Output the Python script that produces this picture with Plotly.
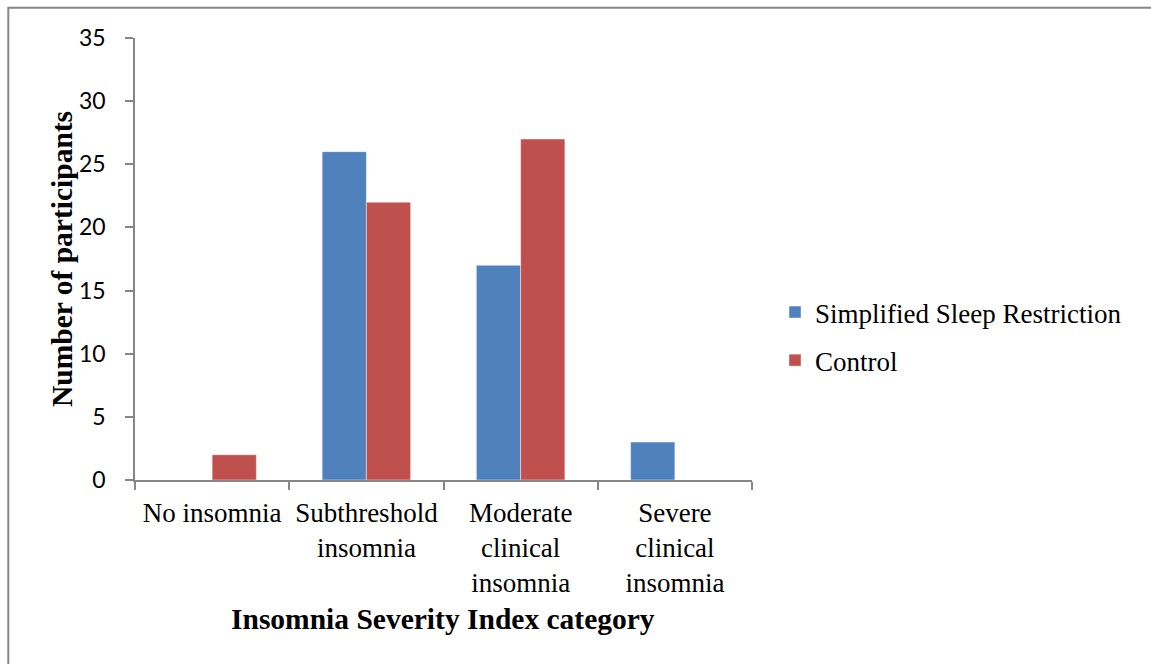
import plotly.graph_objects as go

categories = ["No insomnia", "Subthreshold<br>insomnia", "Moderate<br>clinical<br>insomnia",
              "Severe<br>clinical<br>insomnia"]
ssr_values = [0, 26, 17, 3]
control_values = [2, 22, 27, 0]
y_ticks = [0, 5, 10, 15, 20, 25, 30, 35]

AXIS_GREY = "#868686"
SERIF = "Liberation Serif, Times New Roman, serif"

W, H = 1151, 664
L, R, T, B = 135, 399, 38, 184
pw, ph = W - L - R, H - T - B


def px_x(x):
    return (x - L) / pw


def px_y(y):
    return (H - B - y) / ph


fig = go.Figure()
fig.add_trace(go.Bar(
    x=categories, y=ssr_values, name="Simplified Sleep Restriction",
    marker=dict(color="#4F81BD", line=dict(color="rgba(255,255,255,0.45)", width=1)),
    legendgroup="a",
))
fig.add_trace(go.Bar(
    x=categories, y=control_values, name="Control",
    marker=dict(color="#C0504D", line=dict(color="rgba(255,255,255,0.45)", width=1)),
    legendgroup="b",
))

fig.update_layout(
    width=W, height=H,
    margin=dict(l=L, r=R, t=T, b=B, autoexpand=False),
    paper_bgcolor="white", plot_bgcolor="white",
    barmode="group", bargap=0.426, bargroupgap=0,
    font=dict(family=SERIF, color="black"),
    legend=dict(
        x=px_x(775), y=px_y(336.5), xanchor="left", yanchor="middle",
        font=dict(family=SERIF, size=27, color="black"),
        tracegroupgap=10, bgcolor="rgba(0,0,0,0)",
    ),
    showlegend=True,
)

fig.update_xaxes(
    type="category",
    showline=True, linecolor=AXIS_GREY, linewidth=1.5,
    ticks="outside", tickson="boundaries", ticklen=8, tickcolor=AXIS_GREY, tickwidth=1.5,
    tickfont=dict(family=SERIF, size=27, color="black"),
    ticklabelstandoff=8,
    showgrid=False, zeroline=False,
)
fig.update_yaxes(
    range=[0, 35], tickvals=y_ticks,
    showline=True, linecolor=AXIS_GREY, linewidth=1.5,
    ticks="outside", ticklen=8, tickcolor=AXIS_GREY, tickwidth=1.5,
    tickfont=dict(family="Lato, Liberation Sans, sans-serif", size=23, color="black"),
    ticklabelstandoff=15,
    showgrid=False, zeroline=False,
)

# axis titles
fig.add_annotation(
    text="<b>Number of participants</b>", textangle=-90,
    xref="paper", yref="paper", x=px_x(62), y=0.5,
    xanchor="center", yanchor="middle", showarrow=False,
    font=dict(family=SERIF, size=29.5, color="black"),
)
fig.add_annotation(
    text="<b>Insomnia Severity Index category</b>",
    xref="paper", yref="paper", x=px_x(442.5), y=px_y(619),
    xanchor="center", yanchor="middle", showarrow=False,
    font=dict(family=SERIF, size=29.5, color="black"),
)

# chart-area frame
fig.add_shape(
    type="rect", xref="paper", yref="paper",
    x0=px_x(8.3), y0=px_y(700), x1=px_x(1200), y1=px_y(7.8),
    line=dict(color=AXIS_GREY, width=2), fillcolor="rgba(0,0,0,0)", layer="below",
)

fig.write_html("out.html")
